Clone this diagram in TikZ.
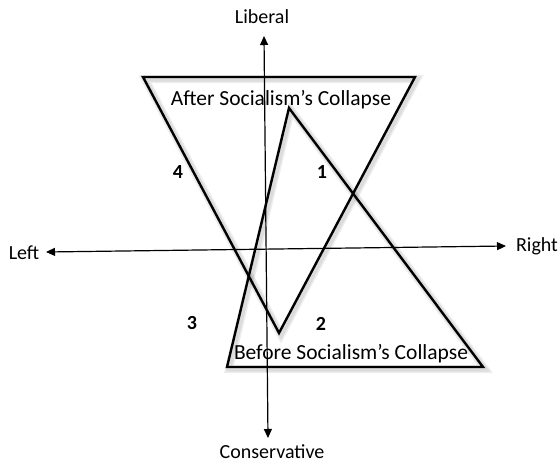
\documentclass[tikz,border=0pt]{standalone}
\usepackage{fontspec}
\setmainfont{Carlito}
\usetikzlibrary{arrows.meta}

\begin{document}
\begin{tikzpicture}[x=1pt,y=-1pt,
  tri/.style={line width=2.4pt,line join=miter},
  halo/.style={line width=#1,draw=black,opacity=0.07,line join=miter,
    transform canvas={xshift=2pt,yshift=-2pt}},
  axis/.style={{Triangle[length=9pt,width=8pt]}-{Triangle[length=9pt,width=8pt]},line width=1.2pt},
  lbl/.style={font=\fontsize{20}{24}\selectfont},
  title/.style={font=\fontsize{21.5}{25}\selectfont},
  num/.style={font=\fontsize{20}{24}\selectfont\bfseries}]
\useasboundingbox (0,0) rectangle (559,463);
% corners of the two triangles
\coordinate (after-l) at (143,77);
\coordinate (after-r) at (415,77);
\coordinate (after-b) at (279,333);
\coordinate (before-t) at (289,108);
\coordinate (before-l) at (227,367);
\coordinate (before-r) at (483,367);
% soft shadow
\foreach \w in {8pt,5pt} {
  \draw[halo=\w] (after-l) -- (after-r) -- (after-b) -- cycle;
  \draw[halo=\w] (before-t) -- (before-r) -- (before-l) -- cycle;
}
\draw[tri] (after-l) -- (after-r) -- (after-b) -- cycle;
\draw[tri] (before-t) -- (before-r) -- (before-l) -- cycle;
\node[title] (after) at (281,100) {After Socialism’s Collapse};
\node[title] (before) at (351,354) {Before Socialism’s Collapse};
% axes
\node[lbl] (liberal) at (262,17) {Liberal};
\node[lbl] (conservative) at (272,452) {Conservative};
\node[lbl] (left) at (24,253) {Left};
\node[lbl] (right) at (537,246) {Right};
\coordinate (top) at (264,36);
\coordinate (bottom) at (268,438);
\coordinate (west) at (46,252);
\coordinate (east) at (506,246);
\draw[axis] (bottom) -- (top);
\draw[axis] (west) -- (east);
% quadrants
\node[num] (q1) at (322,172) {1};
\node[num] (q2) at (321,324) {2};
\node[num] (q3) at (192,323) {3};
\node[num] (q4) at (178,172) {4};
\end{tikzpicture}
\end{document}
